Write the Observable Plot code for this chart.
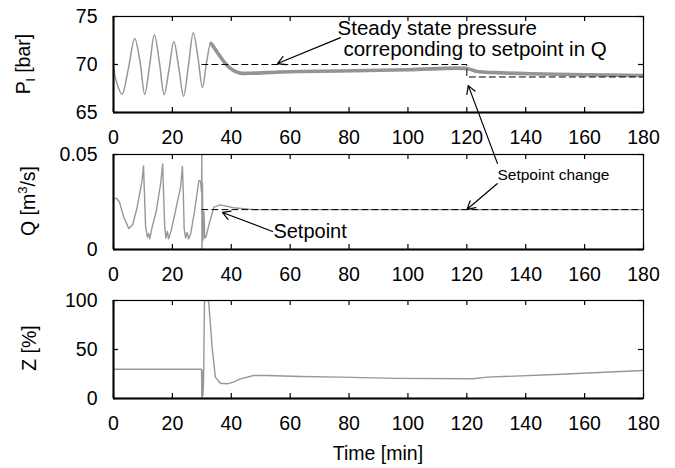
<!DOCTYPE html>
<html><head><meta charset="utf-8">
<script src="https://cdn.jsdelivr.net/npm/d3@7"></script>
<script src="https://cdn.jsdelivr.net/npm/@observablehq/plot@0.6"></script>
<style>body{margin:0;background:#fff;} #chart{width:675px;} svg{display:block;}</style>
</head><body><div id="chart"></div>
<script>
// ---- tick values ----
const xTicks = [0, 20, 40, 60, 80, 100, 120, 140, 160, 180];
const pTicks = [65, 70, 75];
const qTicks = [0, 0.05];
const qTickLabels = ["0", "0.05"];
const zTicks = [0, 50, 100];

// ---- P_l [bar] ----
const pTime = [0, 1, 2.9, 5, 7.2, 9, 10.6, 12.3, 13.9, 15.6, 17.2, 18.9, 20.5, 22.2, 23.8, 25.5, 27.1, 28.7, 30.2, 31.7, 33.1, 34.5, 36.3, 38, 39.7, 41.5, 43.1, 47.6, 55, 63.5, 77, 100, 120, 123.5, 130, 141.6, 160, 180];
const pVal  = [69.7, 68.2, 66.9, 69.5, 72.7, 70.3, 66.9, 70, 73.1, 70.2, 66.85, 69.6, 72.4, 69.6, 66.7, 70, 73.3, 70.7, 67.6, 70.4, 72.2, 71.6, 70.8, 70.1, 69.6, 69.25, 69.1, 69.1, 69.2, 69.27, 69.33, 69.45, 69.58, 69.27, 69.15, 69.03, 68.93, 68.85];
const pSetTime = [30, 120, 180];
const pSetVal  = [70, 68.7, 68.7];
const pThickFrom = 33.1;

// ---- Q [m3/s] ----
const qTime = [0, 1, 2, 3.5, 5.2, 6.5, 8, 9.7, 10.2, 10.5, 10.9, 11.5, 11.9, 12.3, 13, 14.5, 16, 16.7, 17.0, 17.4, 17.8, 18.3, 18.7, 19.6, 21, 22.8, 23.4, 23.7, 24, 24.5, 25, 25.5, 26.2, 27.5, 29, 29.6, 29.9, 30.0, 30.05, 30.2, 30.4, 30.7, 31.0, 31.5, 32.4, 34.1, 36.3, 40.8, 47.6, 120, 180];
const qVal  = [0.0265, 0.027, 0.025, 0.017, 0.011, 0.013, 0.022, 0.0363, 0.044, 0.03, 0.012, 0.0065, 0.0085, 0.0056, 0.011, 0.02, 0.0346, 0.045, 0.03, 0.012, 0.006, 0.0095, 0.0056, 0.01, 0.02, 0.033, 0.0437, 0.03, 0.011, 0.006, 0.009, 0.0056, 0.0082, 0.02, 0.0363, 0.036, 0.03, 0.05, 0, 0.035, 0.005, 0.02, 0.006, 0.007, 0.013, 0.0223, 0.0235, 0.022, 0.021, 0.021, 0.021];
const qSetTime = [30, 180];
const qSetVal  = [0.021, 0.021];

// ---- Z [%] ----
const zTime = [0, 29.9, 30.0, 30.2, 30.4, 30.6, 30.9, 32.3, 33.5, 34.6, 36.3, 38.6, 41, 43.1, 47.6, 52, 63.5, 77, 96, 122, 127, 150, 180];
const zVal  = [29.8, 29.8, 0, 28, 3, 20, 100, 100, 52, 21.8, 15.6, 15, 17, 20, 23.5, 23.5, 22.4, 21.8, 20.5, 20.1, 21.8, 24.5, 28.6];

// ---- annotations (data coordinates) ----
const notesP = [
  {text: "Steady state pressure", t: 76.1, v: 73.1},
  {text: "correponding to setpoint in Q", t: 78.1, v: 70.85}
];
const arrowsP = [
  {t1: 77.1, v1: 72.8, t2: 55.7, v2: 70.1},
  {t1: 130.4, v1: 59.7, t2: 120.5, v2: 67.8}
];
const notesQ = [
  {text: "Setpoint", t: 54.3, v: 0.0063, size: 20},
  {text: "Setpoint change", t: 130.4, v: 0.0368, size: 15.5}
];
const arrowsQ = [
  {t1: 54.0, v1: 0.0095, t2: 37, v2: 0.0195},
  {t1: 130.3, v1: 0.0346, t2: 120.1, v2: 0.0212}
];

const zip = (ts, vs) => ts.map((t, i) => ({t, v: vs[i]}));
const pData = zip(pTime, pVal), pSet = zip(pSetTime, pSetVal);
const qData = zip(qTime, qVal), qSet = zip(qSetTime, qSetVal);
const zData = zip(zTime, zVal);

const W = 675, ML = 113, MR = 32, innerW = W - ML - MR;
const FONT = "'Liberation Sans', Arial, Helvetica, sans-serif";
const GRAY = "#979797";

function panel({height, marginTop, marginBottom, yDomain, yTicks, yFormat, marks}) {
  const innerH = height - marginTop - marginBottom;
  return Plot.plot({
    width: W, height, marginLeft: ML, marginRight: MR, marginTop, marginBottom,
    style: {fontFamily: FONT, fontSize: "19.5px", background: "transparent", overflow: "visible", color: "black"},
    x: {domain: [0, 180]},
    y: {domain: yDomain},
    marks: [
      ...marks,
      Plot.frame({stroke: "black", strokeWidth: 1.2}),
      Plot.ruleX([0], {stroke: "black", strokeWidth: 2}),
      Plot.ruleY([yDomain[0]], {stroke: "black", strokeWidth: 2}),
      Plot.tickX(xTicks, {x: d => d, insetTop: innerH - 5, stroke: "black", strokeWidth: 1.2}),
      Plot.tickX(xTicks, {x: d => d, insetBottom: innerH - 5, stroke: "black", strokeWidth: 1.2}),
      Plot.tickY(yTicks, {y: d => d, insetRight: innerW - 5, stroke: "black", strokeWidth: 1.2}),
      Plot.tickY(yTicks, {y: d => d, insetLeft: innerW - 5, stroke: "black", strokeWidth: 1.2}),
      Plot.axisX(xTicks, {tickSize: 0, tickPadding: 18, label: null}),
      Plot.axisY(yTicks, {tickSize: 0, tickPadding: 16, label: null, tickFormat: yFormat})
    ]
  });
}

const p1 = panel({
  height: 140, marginTop: 16, marginBottom: 28, yDomain: [65, 75], yTicks: pTicks, yFormat: d => String(d),
  marks: [
    Plot.line(pData, {x: "t", y: "v", stroke: GRAY, strokeWidth: 1.5, curve: "catmull-rom", clip: true}),
    Plot.line(pData.filter(d => d.t >= pThickFrom), {x: "t", y: "v", stroke: "#949494", strokeWidth: 3.6, curve: "catmull-rom", clip: true}),
    Plot.line(pSet, {x: "t", y: "v", stroke: "black", strokeWidth: 1, strokeDasharray: "6,4", curve: "step-after"}),
    Plot.text(notesP, {x: "t", y: "v", text: "text", textAnchor: "start", lineAnchor: "bottom", fontSize: 20.5, fill: "black"}),
    Plot.arrow(arrowsP, {x1: "t1", y1: "v1", x2: "t2", y2: "v2", stroke: "black", strokeWidth: 1.2, headLength: 11})
  ]
});

const p2 = panel({
  height: 140, marginTop: 14, marginBottom: 31, yDomain: [0, 0.05], yTicks: qTicks,
  yFormat: (d, i) => qTickLabels[qTicks.indexOf(d)],
  marks: [
    Plot.line(qData, {x: "t", y: "v", stroke: GRAY, strokeWidth: 1.4, clip: true}),
    Plot.line(qSet, {x: "t", y: "v", stroke: "black", strokeWidth: 1, strokeDasharray: "6,4"}),
    Plot.text(notesQ, {x: "t", y: "v", text: "text", textAnchor: "start", lineAnchor: "bottom", fontSize: d => d.size, fill: "black"}),
    Plot.arrow(arrowsQ, {x1: "t1", y1: "v1", x2: "t2", y2: "v2", stroke: "black", strokeWidth: 1.2, headLength: 11})
  ]
});

const p3 = panel({
  height: 188, marginTop: 20, marginBottom: 70, yDomain: [0, 100], yTicks: zTicks, yFormat: d => String(d),
  marks: [
    Plot.line(zData, {x: "t", y: "v", stroke: GRAY, strokeWidth: 1.4, clip: true})
  ]
});

const chart = document.getElementById("chart");
chart.append(p1, p2, p3);

function ylabel(svg, x, y, build) {
  const t = d3.select(svg).append("text")
    .attr("transform", `translate(${x},${y}) rotate(-90)`)
    .attr("text-anchor", "middle")
    .attr("font-family", FONT).attr("font-size", 19.5).attr("fill", "black");
  build(t);
}
ylabel(p1, 30, 64, t => {
  t.append("tspan").text("P");
  t.append("tspan").attr("font-size", 13).attr("dy", 5).text("l");
  t.append("tspan").attr("dy", -5).text(" [bar]");
});
ylabel(p2, 35, 61, t => {
  t.append("tspan").text("Q [m");
  t.append("tspan").attr("font-size", 13).attr("dy", -8).text("3");
  t.append("tspan").attr("dy", 8).text("/s]");
});
ylabel(p3, 36, 68, t => { t.text("Z [%]"); });

d3.select(p3).append("text")
  .attr("x", ML + innerW / 2).attr("y", 180)
  .attr("text-anchor", "middle")
  .attr("font-family", FONT).attr("font-size", 19.5).attr("fill", "black")
  .text("Time [min]");
</script>
</body></html>
